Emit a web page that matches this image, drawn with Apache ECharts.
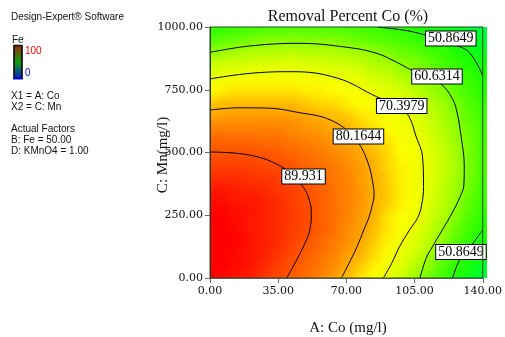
<!DOCTYPE html>
<html><head><meta charset="utf-8">
<script src="https://cdn.jsdelivr.net/npm/echarts@6/dist/echarts.min.js"></script>
<style>html,body{margin:0;padding:0;background:#fff}#c{width:505px;height:337px}</style>
</head><body><div id="c"></div>
<script>
// ---- data ----
const coGrid = [0,7,14,21,28,35,42,49,56,63,70,77,84,91,98,105,112,119,126,133,140];
const mnGrid = [0,50,100,150,200,250,300,350,400,450,500,550,600,650,700,750,800,850,900,950,1000];
// Removal percent Co, one row per Mn value (bottom row first)
const removalGrid = [
 [98,97,96,95,93,91,89,87,85,82,79,76,73,70,66,62,58,54,50,45,40],
 [99,98,97,96,94,92,90,88,86,84,81,78,75,72,68,64,61,56,52,48,43],
 [99,98,97,96,95,93,91,89,87,85,82,80,77,73,70,67,63,59,55,50,46],
 [99,98,98,96,95,94,92,90,88,86,84,81,78,75,72,68,65,61,57,52,48],
 [99,98,97,96,95,94,92,91,89,87,84,82,79,76,73,70,66,62,58,54,50],
 [98,98,97,96,95,94,93,91,89,87,85,82,80,76,74,71,67,64,60,56,52],
 [97,97,96,96,95,94,92,91,89,87,85,83,80,78,75,72,68,65,61,57,53],
 [96,96,95,95,94,93,92,90,89,87,85,83,80,78,75,72,69,65,62,58,54],
 [94,94,94,93,93,92,91,90,88,86,85,82,80,78,75,72,69,66,62,59,55],
 [92,92,92,92,91,91,90,88,87,86,84,82,80,77,75,72,69,66,63,59,55],
 [90,90,90,90,90,89,88,87,86,84,83,81,79,77,74,72,69,66,62,59,55],
 [88,88,88,88,87,87,86,85,84,83,81,80,78,76,73,71,68,65,62,59,55],
 [85,85,85,85,85,85,84,83,82,81,80,78,76,74,72,70,67,64,61,58,55],
 [81,82,82,82,82,82,82,81,80,79,78,76,75,73,71,68,66,63,60,57,54],
 [78,79,79,79,79,79,79,78,77,77,75,74,72,71,69,67,64,62,59,56,53],
 [74,75,76,76,76,76,76,75,75,74,73,72,70,68,67,65,62,60,57,54,51],
 [70,71,72,72,72,72,72,72,71,71,70,69,67,66,64,62,60,58,55,53,50],
 [66,67,67,68,68,69,69,68,68,67,67,66,64,63,61,60,58,55,53,50,48],
 [61,62,63,64,64,64,65,64,64,64,63,62,61,60,58,57,55,53,50,48,45],
 [56,57,58,59,60,60,60,60,60,60,59,58,57,56,55,53,51,50,47,45,42],
 [51,52,53,54,55,55,56,56,56,55,55,54,53,52,51,50,48,46,44,42,39]
];
const xTicks = [0,35,70,105,140];
const yTicks = [0,250,500,750,1000];

// contour lines [Co, Mn]
const contour89 = [[0,502],[20,490],[36.8,443],[47,370],[50.4,324],[52,258],[51.2,191],[48.7,138],[44.5,72],[39.4,0]];
const contour80 = [[0,669],[15,678],[29,677],[45,660],[62,629],[73.9,560],[80.6,470],[83.9,364],[84.2,330],[83.3,290],[81.5,240],[78.9,191],[75.5,125],[71.3,58],[67.5,0]];
const contour70 = [[0,793],[20,815],[42,822],[65.5,796],[85.6,722],[96.7,685],[102,645],[105.8,563],[109.1,483],[109.6,364],[108.6,290],[106.6,240],[102.4,191],[97.3,125],[93.2,58],[89,0]];
const contour60 = [[0,899],[20,924],[45.3,935],[70.5,919],[85.6,895],[95.7,860],[103,830],[112,800],[119,770],[124,720],[126.5,670],[128.9,563],[130.5,443],[130.3,370],[128.4,324],[124.2,258],[119.2,191],[114.2,125],[111,80],[107.8,0]];
const contour50Top = [[86,1000],[95,992],[104,981],[115,957],[126,928],[133.5,895],[140,805]];
const contour50Bottom = [[140,192],[137,160],[134.3,131],[128.4,76],[124.5,0]];
const contourLabels = [
  {name:'50.8649', value:[123.6,954]},
  {name:'60.6314', value:[116.5,803]},
  {name:'70.3979', value:[98.4,685]},
  {name:'80.1644', value:[76.2,564]},
  {name:'89.931',  value:[48,404]},
  {name:'50.8649', value:[128.8,104]}
];

// ---- build ----
const heatData = [];
mnGrid.forEach((mn, j) => coGrid.forEach((co, i) => heatData.push([co, mn, removalGrid[j][i]])));
const halfX = (coGrid[1] - coGrid[0]) / 2, halfY = (mnGrid[1] - mnGrid[0]) / 2;
const xMin = coGrid[0], xMax = coGrid[coGrid.length-1], yMin = mnGrid[0], yMax = mnGrid[mnGrid.length-1];

// each cell is drawn around its grid node; edge cells are padded outward so the soft
// (blurred) layer stays opaque up to the plot border, where it is clipped.
function renderCell(params, api) {
  const x = api.value(0), y = api.value(1);
  const p0 = api.coord([x - halfX, y + halfY]);
  const p1 = api.coord([x + halfX, y - halfY]);
  let x0 = p0[0], y0 = p0[1], x1 = p1[0] + 0.7, y1 = p1[1] + 0.7;
  const pad = 14;
  if (x === xMin) x0 -= pad;
  if (x === xMax) x1 += pad;
  if (y === yMax) y0 -= pad;
  if (y === yMin) y1 += pad;
  return {type:'rect', shape:{x:x0, y:y0, width:x1 - x0, height:y1 - y0}, style:{fill:api.visual('color')}};
}

const serif = 'Liberation Serif, Times New Roman, serif';
const tickFont = 'DejaVu Serif, serif';
const sans = 'Liberation Sans, Arial, sans-serif';

function contourSeries(data) {
  return {type:'line', data:data, smooth:0.4, symbol:'none', z:3, zlevel:1, silent:true,
    lineStyle:{color:'#000', width:1}};
}
function txt(x, y, text, font, fill, extra) {
  return Object.assign({type:'text', x:x, y:y, zlevel:1, style:{text:text, font:font, fill:fill||'#111', textVerticalAlign:'middle'}}, extra||{});
}

const gridBox = {left:210, right:18, top:27, bottom:59};
const chart = echarts.init(document.getElementById('c'), null, {renderer:'canvas'});
chart.setOption({
  animation:false,
  grid:Object.assign({show:true, z:10, zlevel:1, backgroundColor:'transparent', borderColor:'#1d4d1d', borderWidth:1}, gridBox),
  xAxis:{type:'value', min:xTicks[0], max:xTicks[xTicks.length-1], interval:xTicks[1]-xTicks[0], z:11, zlevel:1,
    axisLine:{show:true, lineStyle:{color:'#555', width:1}},
    axisTick:{show:true, inside:false, length:5, lineStyle:{color:'#666'}},
    axisLabel:{margin:8, fontFamily:tickFont, fontSize:11, color:'#111', formatter:v=>v.toFixed(2)},
    splitLine:{show:false}},
  yAxis:{type:'value', min:yTicks[0], max:yTicks[yTicks.length-1], interval:yTicks[1]-yTicks[0], z:11, zlevel:1,
    axisLine:{show:true, lineStyle:{color:'#333', width:1}},
    axisTick:{show:true, inside:false, length:5, lineStyle:{color:'#666'}},
    axisLabel:{margin:7, fontFamily:tickFont, fontSize:11, color:'#111', formatter:v=>v.toFixed(2)},
    splitLine:{show:false}},
  visualMap:{show:false, type:'continuous', dimension:2, seriesIndex:0, min:38, max:98,
    inRange:{color:['#00ff50','#00ff20','#20ff00','#50ff00','#a0ff00','#e0ff00','#ffff00','#ffb000','#ff7800','#ff4000','#ff0000']}},
  series:[
    {type:'custom', renderItem:renderCell, data:heatData, z:1, zlevel:0, silent:true, encode:{x:0, y:1}},
    contourSeries(contour89), contourSeries(contour80), contourSeries(contour70),
    contourSeries(contour60), contourSeries(contour50Top), contourSeries(contour50Bottom),
    {type:'scatter', data:contourLabels, symbolSize:1, itemStyle:{color:'rgba(0,0,0,0)', opacity:1}, z:5, zlevel:1, silent:true,
      label:{show:true, position:'inside', formatter:'{b}', fontFamily:serif, fontSize:14, color:'#000', opacity:1,
        backgroundColor:'#ffffff', borderColor:'#000', borderWidth:1, padding:[1,2,0,2], lineHeight:13}}
  ],
  graphic:[
    txt(348, 17, '', '', '', {style:{text:'Removal Percent Co (%)', font:'16px '+serif, fill:'#111', textAlign:'center', textVerticalAlign:'middle'}}),
    txt(348, 328, '', '', '', {style:{text:'A: Co (mg/l)', font:'15px '+serif, fill:'#111', textAlign:'center', textVerticalAlign:'middle'}}),
    txt(163, 155, '', '', '', {rotation:Math.PI/2, style:{text:'C: Mn(mg/l)', font:'15px '+serif, fill:'#111', textAlign:'center', textVerticalAlign:'middle'}}),
    txt(11, 17, 'Design-Expert® Software', '10px '+sans),
    txt(12, 40, 'Fe', '10px '+sans),
    {type:'rect', zlevel:1, shape:{x:14, y:45.5, width:8, height:33}, style:{
      fill:{type:'linear', x:0, y:0, x2:0, y2:1, colorStops:[{offset:0,color:'#a02800'},{offset:0.5,color:'#10a010'},{offset:1,color:'#0018d8'}]},
      stroke:'#000', lineWidth:1.6}},
    {type:'line', zlevel:1, shape:{x1:13.2, y1:78.5, x2:22.8, y2:78.5}, style:{stroke:'#0000ff', lineWidth:1.6}},
    txt(25, 51, '100', '10px '+sans, '#ff0000'),
    txt(25, 73, '0', '10px '+sans, '#0000ff'),
    txt(11, 96, 'X1 = A: Co', '10px '+sans),
    txt(11, 107, 'X2 = C: Mn', '10px '+sans),
    txt(11, 129, 'Actual Factors', '10px '+sans),
    txt(11, 140, 'B: Fe = 50.00', '10px '+sans),
    txt(11, 151, 'D: KMnO4 = 1.00', '10px '+sans)
  ]
});

// soften the cell layer (zlevel 0) and clip it to the plot rectangle
const heatCanvas = document.querySelector('#c canvas[data-zr-dom-id="zr_0"]');
if (heatCanvas) {
  heatCanvas.style.filter = 'blur(5px)';
  heatCanvas.style.clipPath = 'inset(' + gridBox.top + 'px ' + gridBox.right + 'px ' + gridBox.bottom + 'px ' + gridBox.left + 'px)';
}
</script></body></html>
